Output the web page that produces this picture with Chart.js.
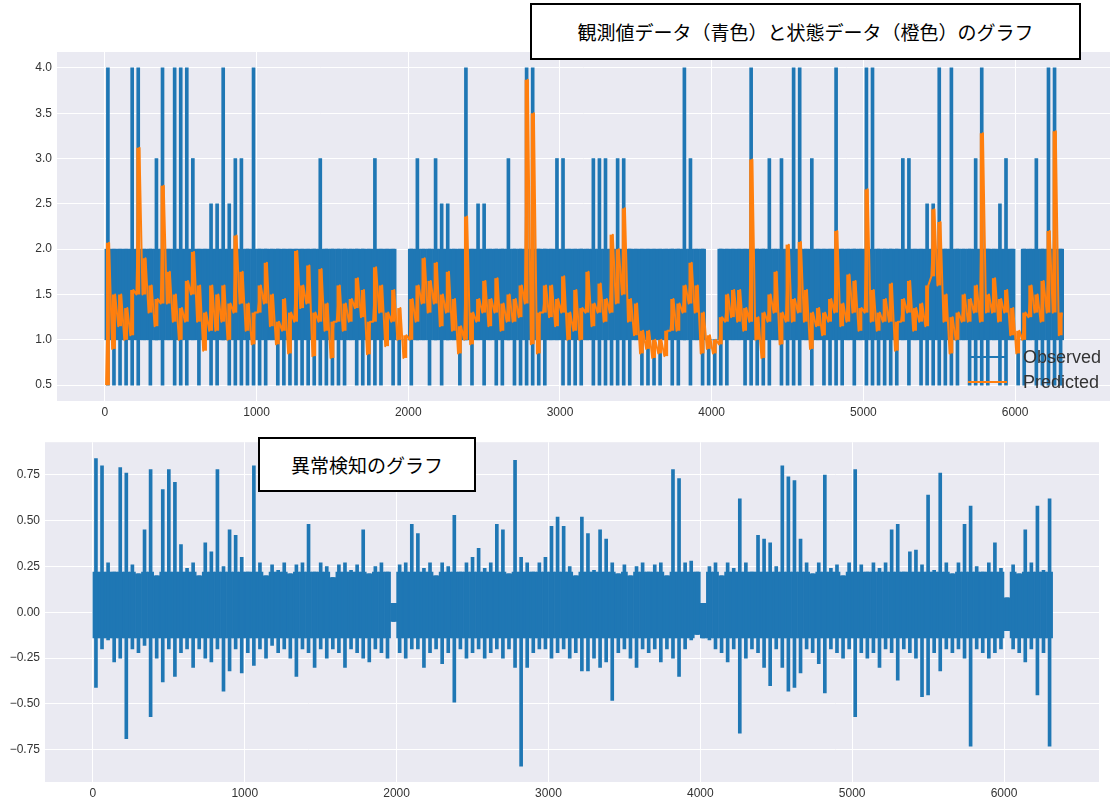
<!DOCTYPE html>
<html lang="ja">
<head>
<meta charset="UTF-8">
<title>観測値データと状態データ / 異常検知のグラフ</title>
<script src="https://cdn.jsdelivr.net/npm/chart.js"></script>
<style>
  body { margin: 0; background: #fff; width: 1113px; height: 801px; position: relative; overflow: hidden; }
  canvas { position: absolute; left: 0; }
  #topChart { top: 0; }
  #bottomChart { top: 430px; }
  .titleBox {
    position: absolute; background: #fff; border: 2px solid #000; box-sizing: border-box;
    font-family: "Noto Sans CJK JP", sans-serif; font-size: 19px; color: #000;
    display: flex; align-items: center; justify-content: center; z-index: 2;
  }
  #topTitle { left: 530px; top: 3px; width: 551px; height: 57px; }
  #bottomTitle { left: 258px; top: 437px; width: 218px; height: 55px; }
</style>
</head>
<body>
<canvas id="topChart" width="1113" height="430"></canvas>
<canvas id="bottomChart" width="1113" height="371"></canvas>
<div class="titleBox" id="topTitle">観測値データ（青色）と状態データ（橙色）のグラフ</div>
<div class="titleBox" id="bottomTitle">異常検知のグラフ</div>

<script>
// each bin = 40 samples; values are the min / max read per bin from the picture
const BIN = 40;

const xTicks = [0, 1000, 2000, 3000, 4000, 5000, 6000];
const obsTicks = [0.5, 1.0, 1.5, 2.0, 2.5, 3.0, 3.5, 4.0];
const anoTicks = [-0.75, -0.5, -0.25, 0, 0.25, 0.5, 0.75];
const seriesNames = ['Observed', 'Predicted'];

// the solid part of each trace
const obsBand = [1, 2];
const anoBand = [-0.14, 0.22];

// Observed (blue)
const obsHi = [
  4,2,2,2,4,4,2,2,3,4,
  2,4,4,4,3,2,2,2.5,2.5,4,
  2.5,3,3,2,4,2,2,2,2,2,
  2,2,2,2,2,3,2,2,2,2,
  2,2,2,2,3,2,2,2,1,1,
  2,3,2,2,3,2.5,2.5,2,2,4,
  2,2.5,2.5,2,2,2,3,2,2,4,
  4,2,2,2,3,3,2,2,2,2,
  3,3,3,2,3,3,2,2,2,2,
  2,2,2,2,2,4,3,2,2,1,
  1,2,2,2,2,2,4,2,2,3,
  2,3,2,4,4,2,3,2,2,2,
  4,2,2,2,2,4,4,2,2,2,
  2,3,3,2,2,2.5,2.5,4,2,4,
  2,2,2,3,4,2,2,2.5,3,2,
  1,2,2,3,2,4,4,2
];
const obsLo = [
  .5,.5,.5,.5,.5,.5,1,.5,1,.5,
  1,.5,.5,.5,1,.5,1,.5,.5,1,
  .5,.5,.5,.5,.5,.5,.5,1,.5,.5,
  .5,.5,.5,.5,.5,.5,.5,.5,.5,.5,
  1,.5,.5,.5,.5,.5,1,.5,.5,1,
  .5,1,1,.5,1,.5,1,1,.5,1,
  .5,1,.5,1,.5,.5,1,.5,.5,.5,
  .5,.5,.5,1,1,.5,.5,.5,.5,1,
  .5,.5,.5,.5,.5,.5,.5,1,.5,.5,
  .5,.5,1,.5,.5,1,.5,1,.5,.5,
  .5,.5,.5,1,1,.5,.5,.5,.5,.5,
  1,.5,.5,.5,.5,1,.5,1,.5,.5,
  .5,.5,1,.5,1,.5,.5,.5,.5,.5,
  .5,1,.5,1,.5,.5,.5,.5,.5,.5,
  .5,1,.5,.5,.5,.5,1,.5,.5,1,
  .5,.5,1,.5,.5,.5,.5,.5
];

// Predicted (orange)
const predLo = [
  0.5,0.9,1.15,1.0,1.05,1.5,1.5,1.3,1.15,1.4,
  1.4,1.2,1.0,1.2,1.5,1.2,0.88,1.1,1.1,1.2,
  1.0,1.3,1.4,1.1,0.95,1.3,1.4,1.15,0.95,1.1,
  0.85,1.2,1.35,1.4,0.82,1.2,1.1,0.8,1.2,1.1,
  1.2,1.35,1.25,0.84,1.2,1.3,0.93,1.2,1.0,0.8,
  1.0,1.2,1.4,1.3,1.4,1.15,1.3,1.1,0.85,1.0,
  0.95,1.2,1.3,1.15,1.3,1.1,1.2,1.2,1.25,1.4,
  0.95,0.85,1.3,1.25,1.15,1.3,1.0,1.1,1.0,1.3,
  1.15,1.3,1.2,1.3,1.4,1.5,1.2,1.05,0.85,0.9,
  0.8,0.85,0.82,1.1,1.1,1.3,1.4,1.3,0.85,0.9,
  0.85,0.95,1.2,1.25,1.2,1.1,1.2,1.0,0.8,1.2,
  1.3,0.95,1.2,1.2,1.3,1.2,0.9,1.15,1.05,1.2,
  1.3,1.15,1.2,1.3,1.1,1.3,1.2,1.1,1.2,1.2,
  0.88,1.2,1.3,1.1,1.2,1.15,1.7,1.6,1.2,0.85,
  1.0,1.2,1.2,1.3,1.2,1.3,1.3,1.2,1.3,1.05,
  0.85,1.0,1.25,1.3,1.2,1.3,1.3,1.05
];
const predHi = [
  2.07,1.5,1.5,1.35,1.55,3.12,1.9,1.6,1.45,2.7,
  1.75,1.5,1.35,1.65,1.97,1.6,1.3,1.6,1.5,1.6,
  1.4,2.15,1.75,1.4,1.3,1.6,1.85,1.5,1.2,1.45,
  1.3,1.98,1.6,1.82,1.3,1.78,1.4,1.2,1.6,1.4,
  1.45,1.68,1.55,1.2,1.8,1.6,1.3,1.55,1.35,1.05,
  1.45,1.6,1.9,1.65,1.85,1.5,1.75,1.45,1.15,2.36,
  1.3,1.45,1.65,1.45,1.68,1.4,1.5,1.45,1.6,3.87,
  3.5,1.3,1.6,1.6,1.45,1.7,1.3,1.55,1.35,1.75,
  1.4,1.62,1.45,2.16,2.0,2.45,1.45,1.4,1.1,1.1,
  1.0,1.0,1.1,1.45,1.4,1.6,1.85,1.6,1.3,1.05,
  1.0,1.25,1.5,1.55,1.55,1.35,2.99,1.25,1.3,1.5,
  1.75,1.3,2.05,1.45,2.08,1.55,1.3,1.35,1.3,1.45,
  2.2,1.4,1.72,1.65,1.35,2.66,1.55,1.3,1.45,1.62,
  1.2,1.45,1.65,1.35,1.4,1.6,2.44,2.3,1.5,1.25,
  1.3,1.5,1.45,1.6,3.28,1.5,1.68,1.45,1.55,1.35,
  1.1,1.3,1.6,1.5,1.65,2.2,3.3,1.3
];

// anomaly score
const anoHi = [
  0.84,0.8,0.27,0.22,0.79,0.76,0.26,0.21,0.45,0.78,
  0.2,0.67,0.78,0.71,0.37,0.24,0.27,0.2,0.38,0.33,
  0.78,0.25,0.45,0.42,0.3,0.22,0.8,0.27,0.2,0.26,
  0.23,0.27,0.21,0.26,0.27,0.48,0.22,0.27,0.25,0.19,
  0.26,0.27,0.23,0.26,0.45,0.21,0.25,0.27,0.22,0.05,
  0.26,0.27,0.48,0.43,0.24,0.27,0.2,0.27,0.25,0.53,
  0.22,0.27,0.3,0.35,0.24,0.27,0.48,0.45,0.21,0.83,
  0.3,0.27,0.22,0.27,0.3,0.47,0.52,0.47,0.25,0.2,
  0.52,0.43,0.23,0.45,0.4,0.27,0.21,0.26,0.2,0.25,
  0.27,0.22,0.26,0.27,0.2,0.78,0.73,0.27,0.28,0.22,
  0.05,0.25,0.27,0.2,0.27,0.24,0.62,0.27,0.22,0.42,
  0.4,0.38,0.25,0.8,0.74,0.72,0.4,0.27,0.21,0.27,
  0.75,0.24,0.26,0.2,0.27,0.78,0.26,0.22,0.27,0.24,
  0.27,0.45,0.48,0.22,0.33,0.34,0.26,0.64,0.23,0.76,
  0.27,0.21,0.27,0.48,0.58,0.25,0.22,0.27,0.38,0.24,
  0.08,0.26,0.21,0.45,0.27,0.58,0.23,0.62
];
const anoLo = [
  -0.41,-0.2,-0.15,-0.27,-0.25,-0.69,-0.2,-0.22,-0.18,-0.57,
  -0.25,-0.38,-0.2,-0.35,-0.22,-0.2,-0.3,-0.2,-0.25,-0.27,
  -0.2,-0.43,-0.32,-0.2,-0.33,-0.22,-0.29,-0.2,-0.25,-0.18,
  -0.22,-0.2,-0.25,-0.35,-0.2,-0.22,-0.3,-0.2,-0.25,-0.2,
  -0.22,-0.3,-0.2,-0.22,-0.25,-0.27,-0.2,-0.22,-0.25,-0.05,
  -0.22,-0.25,-0.2,-0.2,-0.3,-0.22,-0.2,-0.28,-0.22,-0.49,
  -0.2,-0.25,-0.22,-0.2,-0.25,-0.22,-0.2,-0.25,-0.2,-0.3,
  -0.84,-0.3,-0.22,-0.2,-0.2,-0.25,-0.22,-0.2,-0.25,-0.22,
  -0.32,-0.32,-0.25,-0.3,-0.27,-0.48,-0.22,-0.2,-0.25,-0.3,
  -0.2,-0.22,-0.2,-0.27,-0.2,-0.25,-0.35,-0.2,-0.15,-0.12,
  -0.14,-0.15,-0.2,-0.22,-0.27,-0.2,-0.66,-0.25,-0.2,-0.22,
  -0.3,-0.4,-0.2,-0.3,-0.43,-0.41,-0.33,-0.2,-0.22,-0.28,
  -0.44,-0.2,-0.22,-0.25,-0.2,-0.57,-0.22,-0.25,-0.22,-0.3,
  -0.2,-0.22,-0.37,-0.2,-0.22,-0.25,-0.46,-0.45,-0.22,-0.32,
  -0.2,-0.22,-0.2,-0.25,-0.73,-0.2,-0.22,-0.25,-0.22,-0.2,
  -0.1,-0.2,-0.22,-0.27,-0.2,-0.45,-0.22,-0.73
];

const BLUE = '#1f77b4';
const ORANGE = '#ff7f0e';
const tickFont = { family: "'Liberation Sans', Arial, sans-serif", size: 12 };
const tickColor = '#333';

// one vertical range per bin
function ranges(lo, hi) {
  return lo.map((v, k) => ({ x: k * BIN + BIN / 2, y: [v, hi[k]] }));
}
// same ranges limited to the solid band
function bandRanges(lo, hi, band) {
  return lo.map((v, k) => {
    const a = Math.max(v, band[0]);
    return { x: k * BIN + BIN / 2, y: [a, Math.max(a, Math.min(hi[k], band[1]))] };
  });
}
// min then max of every bin as a jagged line
function binPoints(lo, hi) {
  const pts = [];
  lo.forEach((v, k) => {
    pts.push({ x: k * BIN + 8, y: v });
    pts.push({ x: k * BIN + 28, y: hi[k] });
  });
  return pts;
}

const barBase = { type: 'bar', grouped: false, borderWidth: 0, categoryPercentage: 1 };
const lineBase = { type: 'line', pointRadius: 0, tension: 0, borderJoinStyle: 'round', fill: false };

const plotBg = {
  id: 'plotBg',
  beforeDraw(chart) {
    const { ctx, chartArea: a } = chart;
    ctx.save();
    ctx.fillStyle = '#eaeaf2';
    ctx.fillRect(a.left, a.top, a.right - a.left, a.bottom - a.top);
    ctx.restore();
  }
};

// legend inside the plot, lower right, no frame
const innerLegend = {
  id: 'innerLegend',
  afterDatasetsDraw(chart) {
    const { ctx, chartArea: a } = chart;
    const colors = [BLUE, ORANGE];
    ctx.save();
    ctx.font = "18px 'Liberation Sans', Arial, sans-serif";
    ctx.textBaseline = 'middle';
    seriesNames.forEach((name, i) => {
      const y = a.bottom - 44 + i * 25;
      ctx.strokeStyle = colors[i];
      ctx.lineWidth = 2;
      ctx.beginPath();
      ctx.moveTo(a.right - 142, y);
      ctx.lineTo(a.right - 103, y);
      ctx.stroke();
      ctx.fillStyle = '#333';
      ctx.fillText(name, a.right - 87, y + 1);
    });
    ctx.restore();
  }
};

function xScale(height) {
  return {
    type: 'linear', min: -315.5, max: 6625.5, offset: false,
    afterBuildTicks: s => { s.ticks = xTicks.map(v => ({ value: v })); },
    afterFit: s => { s.height = height; },
    grid: { color: '#ffffff', lineWidth: 1, drawTicks: false, offset: false },
    border: { display: false },
    ticks: { padding: 4, color: tickColor, font: tickFont, maxRotation: 0, callback: v => String(v) }
  };
}

function yScale(min, max, ticks, width, fmt) {
  return {
    type: 'linear', min: min, max: max,
    afterBuildTicks: s => { s.ticks = ticks.map(v => ({ value: v })); },
    afterFit: s => { s.width = width; },
    grid: { color: '#ffffff', lineWidth: 1, drawTicks: false },
    border: { display: false },
    ticks: { padding: 5, color: tickColor, font: tickFont, callback: fmt }
  };
}

new Chart(document.getElementById('topChart'), {
  type: 'line',
  data: {
    datasets: [
      Object.assign({}, barBase, { label: seriesNames[0], data: bandRanges(obsLo, obsHi, obsBand), backgroundColor: BLUE, barPercentage: 1, order: 3 }),
      Object.assign({}, barBase, { label: seriesNames[0], data: ranges(obsLo, obsHi), backgroundColor: BLUE, barThickness: 3, order: 2 }),
      Object.assign({}, barBase, { label: seriesNames[1], data: ranges(predLo, predHi), backgroundColor: ORANGE, barPercentage: 0.65, order: 1 }),
      Object.assign({}, lineBase, { label: seriesNames[1], data: binPoints(predLo, predHi), borderColor: ORANGE, borderWidth: 2, order: 0 })
    ]
  },
  options: {
    responsive: false, animation: false, devicePixelRatio: 1,
    layout: { padding: { left: 0, right: 3, top: 52, bottom: 0 } },
    plugins: { legend: { display: false }, tooltip: { enabled: false } },
    scales: {
      x: xScale(29),
      y: yScale(0.325, 4.175, obsTicks, 57, v => v.toFixed(1))
    }
  },
  plugins: [plotBg, innerLegend]
});

new Chart(document.getElementById('bottomChart'), {
  type: 'line',
  data: {
    datasets: [
      Object.assign({}, barBase, { label: 'anomaly', data: bandRanges(anoLo, anoHi, anoBand), backgroundColor: BLUE, barPercentage: 1, order: 1 }),
      Object.assign({}, barBase, { label: 'anomaly', data: ranges(anoLo, anoHi), backgroundColor: BLUE, barThickness: 3, order: 0 })
    ]
  },
  options: {
    responsive: false, animation: false, devicePixelRatio: 1,
    layout: { padding: { left: 0, right: 14, top: 2, bottom: 0 } },
    plugins: { legend: { display: false }, tooltip: { enabled: false } },
    scales: {
      x: xScale(19),
      y: yScale(-0.926, 0.929, anoTicks, 45, v => (v < 0 ? '\u2212' : '') + Math.abs(v).toFixed(2))
    }
  },
  plugins: [plotBg]
});
</script>
</body>
</html>
